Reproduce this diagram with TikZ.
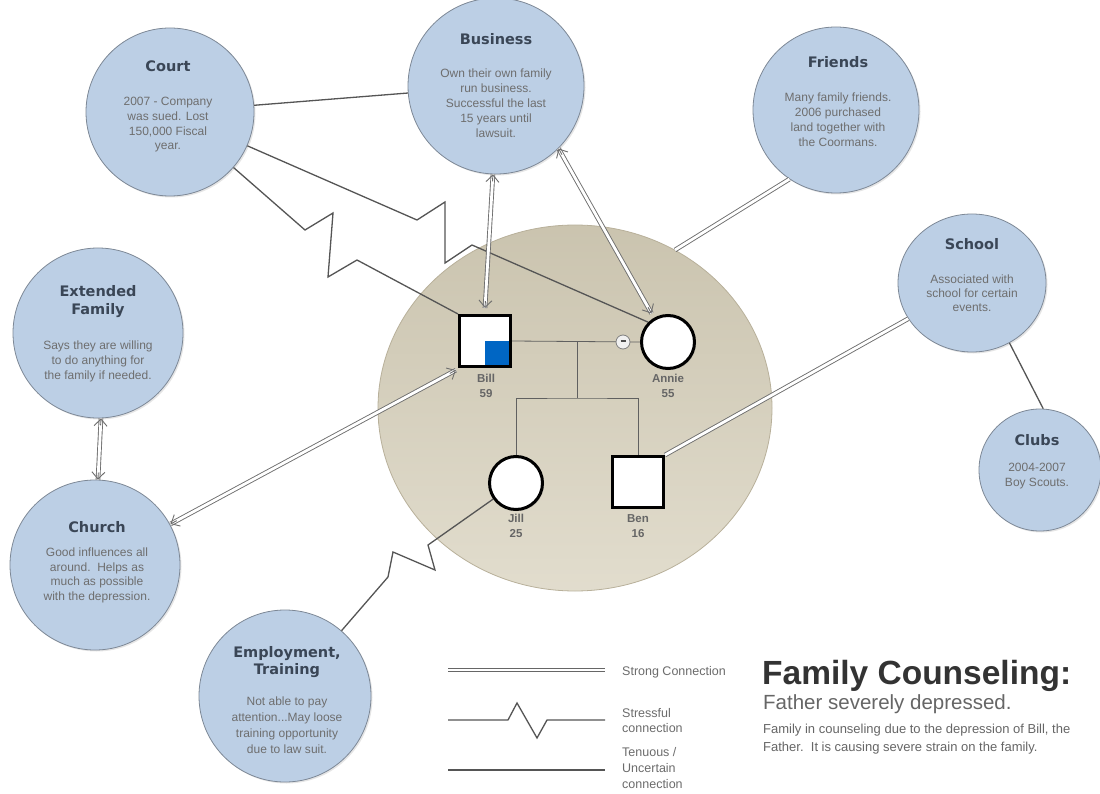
\documentclass[tikz,border=0pt]{standalone}
\usepackage{fontspec}
\setmainfont{Liberation Sans}
\newfontfamily\ttlfont{DejaVu Sans}
\usetikzlibrary{arrows.meta,shadows,shapes.geometric,calc}
\definecolor{bfill}{HTML}{BCCFE5}
\definecolor{bdraw}{HTML}{7D8896}
\definecolor{ttlc}{HTML}{3A4656}
\definecolor{bodyc}{HTML}{6E6E6E}
\definecolor{tanf}{HTML}{D5CEB8}
\definecolor{tand}{HTML}{B8B09A}
\definecolor{lnc}{HTML}{555555}
\definecolor{lblc}{HTML}{666666}
\definecolor{billblue}{HTML}{0066C4}
\newcommand\dblarr[2]{%
  \draw[dbl] (#1) -- (#2);
  \draw[tipst] ($(#1)!7pt!(#2)$) -- (#1);
  \draw[tipst] ($(#2)!7pt!(#1)$) -- (#2);
}
\begin{document}
\begin{tikzpicture}[x=1pt,y=-1pt,
  bubble/.style={circle, draw=bdraw, line width=0.8pt, fill=bfill, inner sep=0pt, minimum size=#1,
     drop shadow={shadow xshift=1.5pt, shadow yshift=-1.5pt, opacity=0.2}},
  ttl/.style={font=\ttlfont\bfseries\fontsize{14.5}{#1}\selectfont, text=ttlc, align=center, anchor=base, inner sep=0pt},
  ttl/.default=17.5,
  bodytxt/.style={font=\fontsize{12}{#1}\selectfont, text=bodyc, align=center, anchor=base, inner sep=0pt},
  bodytxt/.default=14.8,
  plain/.style={draw=lnc, line width=1.3pt},
  dbl/.style={draw=lnc!85, line width=0.9pt, double=white, double distance=2.8pt},
  tipst/.style={draw=lnc!85, line width=0.9pt, -{Straight Barb[length=7pt,width=13pt]}},
  person/.style={draw=black, line width=3pt, fill=white, inner sep=0pt,
     drop shadow={shadow xshift=1.5pt, shadow yshift=-1.5pt, opacity=0.3}},
  tree/.style={draw=gray!75!black, line width=0.8pt},
  lbl/.style={font=\bfseries\fontsize{11.5}{15}\selectfont, text=lblc, align=center, anchor=base, inner sep=0pt},
  legtxt/.style={font=\fontsize{12.5}{#1}\selectfont, text=gray!85!black, align=left, anchor=base west, inner sep=0pt},
  legtxt/.default=15.5
]
\useasboundingbox (0,0) rectangle (1100,794);
\fill[white] (0,0) rectangle (1100,794);

% central family circle
\node[ellipse, draw=tand, line width=0.8pt, inner sep=0pt, minimum width=394, minimum height=366,
      top color=tanf!95!black, bottom color=tanf!70!white] (ctr) at (575,408) {};

% bubbles
\node[bubble=168] (court) at (170,112) {};
\node[bubble=176] (business) at (496,86) {};
\node[bubble=166] (friends) at (836,110) {};
\node[bubble=170] (extended) at (98,333) {};
\node[bubble=170] (church) at (95,565) {};
\node[bubble=172] (employment) at (285,696) {};
\node[ellipse, draw=bdraw, line width=0.8pt, fill=bfill, inner sep=0pt, minimum width=148, minimum height=138,
     drop shadow={shadow xshift=1.5pt, shadow yshift=-1.5pt, opacity=0.2}] (school) at (972,283) {};
\node[bubble=122] (clubs) at (1040,470) {};

% bubble texts (anchor base = last line)
\node[ttl] (courtT) at (168,72) {Court};
\node[bodytxt] (courtB) at (168,150) {2007 - Company\\was sued. Lost\\150,000 Fiscal\\year.};
\node[ttl] (businessT) at (496,45) {Business};
\node[bodytxt=15] (businessB) at (496,138) {Own their own family\\run business.\\Successful the last\\15 years until\\lawsuit.};
\node[ttl] (friendsT) at (838,68) {Friends};
\node[bodytxt=15] (friendsB) at (838,147) {Many family friends.\\2006 purchased\\land together with\\the Coormans.};
\node[ttl=18] (extendedT) at (98,315) {Extended\\Family};
\node[bodytxt=15] (extendedB) at (98,379) {Says they are willing\\to do anything for\\the family if needed.};
\node[ttl] (churchT) at (97,532) {Church};
\node[bodytxt=14.5] (churchB) at (97,600) {Good influences all\\around.\ \ Helps as\\much as possible\\with the depression.};
\node[ttl=17] (employmentT) at (287,674) {Employment,\\Training};
\node[bodytxt=15.8] (employmentB) at (287,753) {Not able to pay\\attention...May loose\\training opportunity\\due to law suit.};
\node[ttl] (schoolT) at (972,250) {School};
\node[bodytxt=14.2] (schoolB) at (972,312) {Associated with\\school for certain\\events.};
\node[ttl] (clubsT) at (1037,445) {Clubs};
\node[bodytxt=15] (clubsB) at (1037,486) {2004-2007\\Boy Scouts.};

% family members
\node[person, rectangle, minimum size=51] (bill) at (485,341) {};
\fill[billblue] (bill.center) rectangle ([xshift=-3pt,yshift=3pt]bill.south east);
\node[person, circle, minimum size=53] (annie) at (668,342) {};
\node[person, circle, minimum size=53] (jill) at (516,483) {};
\node[person, rectangle, minimum size=51] (ben) at (638,482) {};
\node[lbl] (billL) at (486,397) {Bill\\59};
\node[lbl] (annieL) at (668,397) {Annie\\55};
\node[lbl] (jillL) at (516,537) {Jill\\25};
\node[lbl] (benL) at (638,537) {Ben\\16};

% family tree lines
\coordinate (mid) at (577,342);
\coordinate (sib) at (577,398);
\draw[tree] (bill.east) -- (annie.west);
\draw[tree] (mid) -- (sib);
\draw[tree] (jill.north) |- (sib) -| (ben.north);
\node[circle, draw=gray, fill=gray!12, line width=0.8pt, minimum size=14, inner sep=0pt] (minus) at (623,342) {\textcolor{black!70}{\rule[2pt]{5pt}{1.4pt}}};

% connectors
\draw[plain] (court) -- (business);
\draw[plain] (court) -- (305,230) -- (333,213) -- (328,277) -- (357,260) -- (bill.north west);
\draw[plain] (court) -- (417,220) -- (445,202) -- (445,263) -- (472,245) -- (annie.135);
\coordinate (bb1) at (business.-92);
\coordinate (bb2) at ([yshift=6pt]bill.north);
\dblarr{bb1}{bb2}
\coordinate (ba1) at (business.-45);
\coordinate (ba2) at ($(annie.120)!-5pt!(annie.center)$);
\dblarr{ba1}{ba2}
\coordinate (fend) at (675,250);
\draw[dbl] (friends.236) -- (fend);
\draw[dbl] (school) -- (ben.north east);
\draw[plain] (school.-58) -- (clubs.87);
\coordinate (ec1) at (extended.-88);
\coordinate (ec2) at (church.88);
\dblarr{ec1}{ec2}
\coordinate (cb1) at ($(church.center)!86pt!(bill.south west)$);
\coordinate (cb2) at ($(bill.south west)!-3pt!(bill.center)$);
\dblarr{cb1}{cb2}
\draw[plain] (jill) -- (428,545) -- (435,570) -- (393,552) -- (388,577) -- (employment);

% legend
\coordinate (l1a) at (448,670); \coordinate (l1b) at (605,670);
\draw[draw=gray!80!black, line width=0.9pt, double=white, double distance=2.4pt] (l1a) -- (l1b);
\draw[plain] (448,720) -- (508,720) -- (517,703) -- (537,738) -- (547,720) -- (605,720);
\draw[plain] (448,770) -- (605,770);
\node[legtxt] (leg1) at (622,675) {Strong Connection};
\node[legtxt=15] (leg2) at (622,732) {Stressful\\connection};
\node[legtxt=16] (leg3) at (622,788) {Tenuous /\\Uncertain\\connection};

% title block
\node[font=\bfseries\fontsize{33.5}{38}\selectfont, text=black!80, anchor=base west, inner sep=0pt] (title) at (762,684) {Family Counseling:};
\node[font=\fontsize{20.5}{22}\selectfont, text=black!60, anchor=base west, inner sep=0pt] (subtitle) at (763,709) {Father severely depressed.};
\node[font=\fontsize{13}{18}\selectfont, text=black!60, anchor=base west, align=left, inner sep=0pt] (desc) at (763,751) {Family in counseling due to the depression of Bill, the\\Father.\ \ It is causing severe strain on the family.};
\end{tikzpicture}
\end{document}
